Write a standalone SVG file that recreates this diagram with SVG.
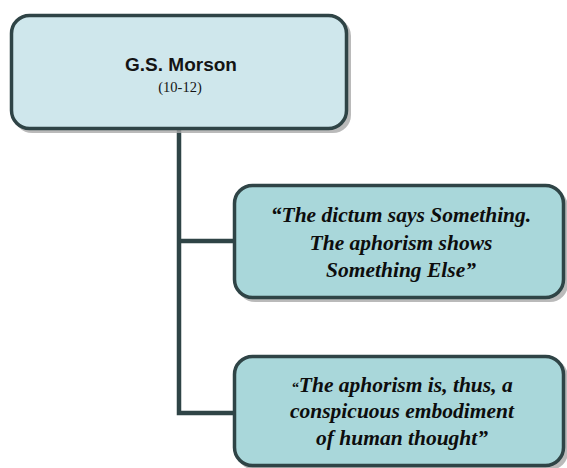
<svg xmlns="http://www.w3.org/2000/svg" width="567" height="468" viewBox="0 0 567 468">
<defs>
<style>
.shadow{fill:#a9a9a9;opacity:0.8}
.box{stroke:#2f4446;stroke-width:3.5}
.top{fill:#cfe7ec}
.child{fill:#a9d7da}
.conn{fill:none;stroke:#2f4446;stroke-width:4.5}
.title{font-family:"Liberation Sans",Arial,sans-serif;font-weight:bold;font-size:19px;fill:#141414;text-anchor:middle}
.sub{font-family:"Liberation Serif","Times New Roman",serif;font-size:14.5px;fill:#141414;text-anchor:middle}
.quote{font-family:"Liberation Serif","Times New Roman",serif;font-weight:bold;font-style:italic;font-size:21.5px;fill:#0d0d0d;text-anchor:middle}
</style>
</defs>
<g id="connectors">
<path class="conn" d="M179,130 V413 H233"/>
<path class="conn" d="M179,241 H233"/>
</g>
<g id="node-morson">
<rect class="shadow" x="14" y="18" width="337" height="115" rx="18"/>
<rect class="box top" x="11.5" y="15.5" width="335" height="113" rx="18"/>
<text class="title" x="181" y="71">G.S. Morson</text>
<text class="sub" x="180" y="92">(10-12)</text>
</g>
<g id="node-dictum">
<rect class="shadow" x="237" y="189" width="331" height="113" rx="18"/>
<rect class="box child" x="234.5" y="185.5" width="329" height="112" rx="18"/>
<text class="quote" x="401" y="222">“The dictum says Something.</text>
<text class="quote" x="401" y="250">The aphorism shows</text>
<text class="quote" x="401" y="277">Something Else”</text>
</g>
<g id="node-aphorism">
<rect class="shadow" x="237" y="359" width="331" height="111" rx="18"/>
<rect class="box child" x="234.5" y="356.5" width="329" height="109" rx="18"/>
<text class="quote" x="402" y="392"><tspan font-size="15">“</tspan>The aphorism is, thus, a</text>
<text class="quote" x="402" y="418">conspicuous embodiment</text>
<text class="quote" x="402" y="445">of human thought”</text>
</g>
</svg>
